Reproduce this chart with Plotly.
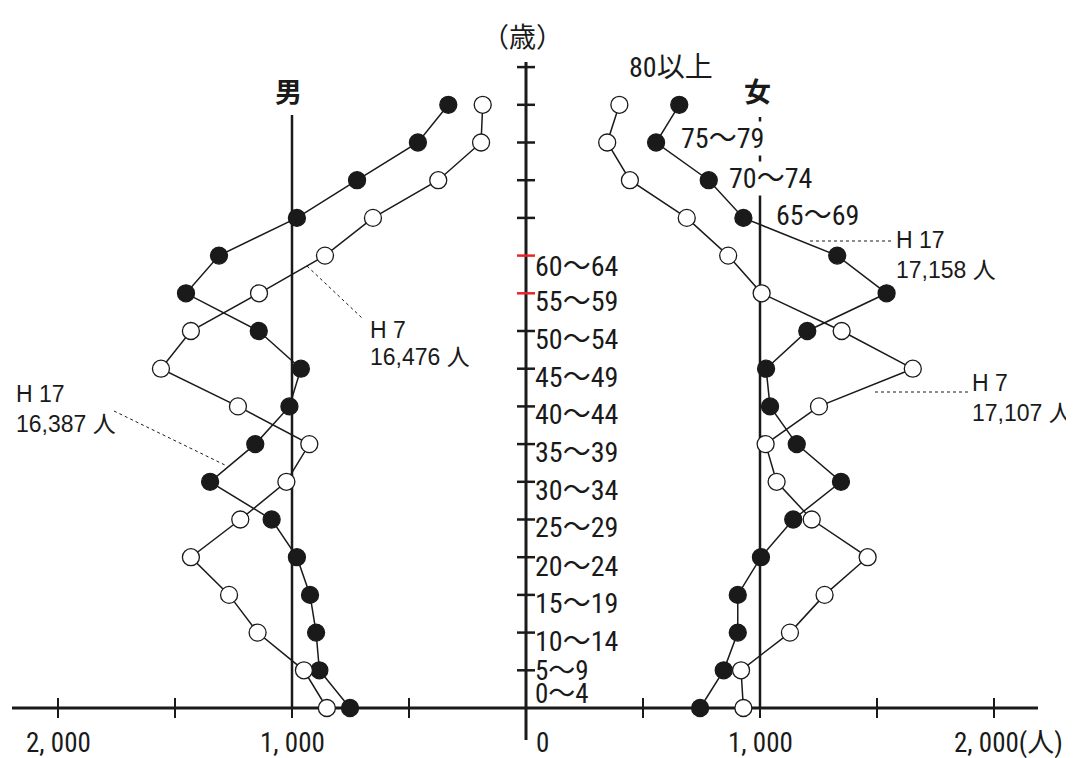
import plotly.graph_objects as go

# ---------------- data ----------------
age_groups = ["0～4", "5～9", "10～14", "15～19", "20～24", "25～29", "30～34",
              "35～39", "40～44", "45～49", "50～54", "55～59", "60～64",
              "65～69", "70～74", "75～79", "80以上"]
male_h17 = [752, 883, 897, 923, 979, 1087, 1350, 1157, 1011, 962, 1142, 1453,
            1312, 979, 722, 462, 332]
male_h7 = [851, 949, 1147, 1269, 1432, 1221, 1024, 926, 1231, 1560, 1432, 1141,
           859, 654, 375, 192, 185]
female_h17 = [744, 845, 905, 905, 1004, 1142, 1346, 1157, 1043, 1026, 1202, 1541,
              1330, 929, 781, 556, 655]
female_h7 = [929, 919, 1128, 1276, 1460, 1221, 1071, 1024, 1252, 1653, 1349, 1007,
             864, 687, 444, 347, 399]
x_tick_values = [-2000, -1500, -1000, -500, 500, 1000, 1500, 2000]
x_label_values = [-2000, -1000, 0, 1000, 2000]
x_label_texts = ["2, 000", "1, 000", "0", "1, 000", "2, 000(人)"]
red_tick_groups = ["55～59", "60～64"]

# ---------------- geometry ----------------
# page body has an 8px margin, so the figure covers page pixels 8..1074 / 8..758
PAGE_W, PAGE_H, BODY = 1074, 758, 8
W, H = PAGE_W - BODY, PAGE_H - BODY
X0PX, XSCALE = 526, 0.234      # page pixel of 0, pixels per person
Y0PX, YSTEP = 708, 37.7        # page pixel of first age group, pixels per group


def xd(px):
    return (px - X0PX) / XSCALE


def yd(py):
    return (Y0PX - py) / YSTEP


xr = [xd(BODY), xd(PAGE_W)]
yr = [yd(PAGE_H), yd(BODY)]

ypos = list(range(len(age_groups)))
INK = "#1a1a1a"
NARROW = ("Liberation Sans Narrow, Roboto Condensed, DejaVu Sans Condensed, "
          "Liberation Sans, Noto Sans CJK JP, sans-serif")
REG = "Liberation Sans, Noto Sans CJK JP, sans-serif"
CJK = "Noto Sans CJK JP, sans-serif"

fig = go.Figure()

series = [
    ([-v for v in male_h17], INK),
    ([-v for v in male_h7], "white"),
    (female_h17, INK),
    (female_h7, "white"),
]
for xs, _ in series:
    fig.add_trace(go.Scatter(x=xs, y=ypos, mode="lines",
                             line=dict(color=INK, width=1.5),
                             hoverinfo="skip", showlegend=False))
for xs, fill in series:
    fig.add_trace(go.Scatter(x=xs, y=ypos, mode="markers",
                             marker=dict(size=17, color=fill, symbol="circle",
                                         line=dict(color=INK, width=1.3)),
                             hoverinfo="skip", showlegend=False))

shapes = []
# horizontal axis
shapes.append(dict(type="line", x0=xd(12), x1=xd(1038), y0=0, y1=0,
                   line=dict(color=INK, width=3), layer="below"))
for t in x_tick_values:
    shapes.append(dict(type="line", xref="x", yref="y", ysizemode="pixel",
                       yanchor=0, y0=-10, y1=10, x0=t, x1=t,
                       line=dict(color=INK, width=2), layer="below"))
# vertical axis
shapes.append(dict(type="line", x0=0, x1=0, y0=yd(740), y1=yd(62),
                   line=dict(color=INK, width=3), layer="below"))
for i in range(1, len(age_groups) + 1):
    red = i < len(age_groups) and age_groups[i] in red_tick_groups
    shapes.append(dict(type="line", xref="x", yref="y", xsizemode="pixel",
                       xanchor=0, x0=-9, x1=9, y0=i, y1=i,
                       line=dict(color="#e8242a" if red else INK, width=2.5),
                       layer="below"))
# 1,000 reference lines
shapes.append(dict(type="line", x0=-1000, x1=-1000, y0=0, y1=yd(115),
                   line=dict(color=INK, width=2.5), layer="below"))
shapes.append(dict(type="line", x0=1000, x1=1000, y0=0, y1=yd(117),
                   line=dict(color=INK, width=2.5), layer="below"))
# leader lines (dotted)
for (ax, ay, bx, by) in [(307, 266, 362, 318), (114, 411, 227, 466),
                         (810, 241, 892, 241), (875, 392, 968, 392)]:
    shapes.append(dict(type="line", x0=xd(ax), y0=yd(ay), x1=xd(bx), y1=yd(by),
                       line=dict(color=INK, width=1, dash="dot"), layer="below"))

annotations = []
# x-axis labels
for v, t in zip(x_label_values, x_label_texts):
    if v == 0:
        anchor, shift = "left", 8
    elif v == 2000:
        anchor, shift = "left", -42
    else:
        anchor, shift = "center", 0
    annotations.append(dict(x=v, y=yd(743), text=t, showarrow=False,
                            xanchor=anchor, xshift=shift,
                            font=dict(family=NARROW, size=27, color=INK)))

# age labels along the axis (0-4 .. 60-64); tight boxes so the crowded
# lowest labels do not collide
shift_px = [14, -1, -8, -8, -9, -7, -8, -8, -8, -8, -8, -8, -10]
size_px = [27, 27] + [28] * 11
box_h = [24, 24] + [26] * 11
for i, (s, fs, bh) in enumerate(zip(shift_px, size_px, box_h)):
    annotations.append(dict(x=0, y=i, text=age_groups[i], showarrow=False,
                            xanchor="left", xshift=7, yshift=s,
                            height=bh, valign="middle",
                            font=dict(family=NARROW, size=fs, color=INK)))
# age labels placed beside the female curve (the two that sit on the
# 1,000 line mask it with a white box, as in the original)
upper = [(13, 775, 215, False), (14, 728, 178, True),
         (15, 680, 138, True), (16, 628, 67, False)]
for i, lx, ly, mask in upper:
    annotations.append(dict(x=xd(lx), y=yd(ly), text=age_groups[i], showarrow=False,
                            xanchor="left",
                            bgcolor="white" if mask else "rgba(0,0,0,0)",
                            borderpad=0,
                            font=dict(family=NARROW, size=28, color=INK)))

# titles
annotations += [
    dict(x=xd(288), y=yd(90), text="<b>男</b>", showarrow=False,
         font=dict(family=CJK, size=27, color=INK)),
    dict(x=xd(757), y=yd(90), text="<b>女</b>", showarrow=False,
         font=dict(family=CJK, size=27, color=INK)),
    dict(x=xd(522), y=yd(35), text="（歳）", showarrow=False,
         font=dict(family=CJK, size=27, color=INK)),
]

# total labels
for (lx, ly, t) in [(368, 330, "H 7"), (368, 357, "16,476 人"),
                    (14, 394, "H 17"), (14, 424, "16,387 人"),
                    (894, 240, "H 17"), (894, 270, "17,158 人"),
                    (970, 383, "H 7"), (970, 413, "17,107 人")]:
    annotations.append(dict(x=xd(lx), y=yd(ly), text=t, showarrow=False,
                            xanchor="left",
                            font=dict(family=REG, size=23, color=INK)))

fig.update_layout(
    width=W, height=H,
    margin=dict(l=0, r=0, t=0, b=0),
    paper_bgcolor="white", plot_bgcolor="white",
    xaxis=dict(range=xr, visible=False, fixedrange=True),
    yaxis=dict(range=yr, visible=False, fixedrange=True),
    shapes=shapes, annotations=annotations, showlegend=False,
)

fig.write_html("out.html")
